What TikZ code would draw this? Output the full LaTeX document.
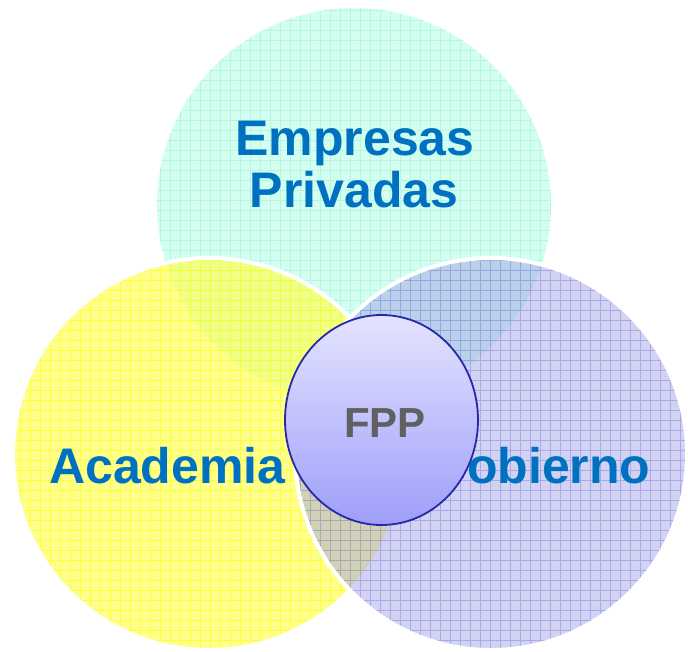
\documentclass[tikz,border=0pt]{standalone}
\usepackage{fontspec}
\setmainfont{Liberation Sans}
\definecolor{mint}{RGB}{210,255,240}
\definecolor{mintgrid}{RGB}{175,242,225}
\definecolor{yel}{RGB}{255,255,80}
\definecolor{yelgrid}{RGB}{255,255,0}
\definecolor{lav}{RGB}{165,165,232}
\definecolor{lavgrid}{RGB}{120,120,220}
\definecolor{labelblue}{RGB}{0,112,192}
\definecolor{fppgray}{RGB}{96,96,96}
\definecolor{fpptop}{RGB}{228,228,255}
\definecolor{fppbot}{RGB}{158,158,250}
\definecolor{fppedge}{RGB}{40,40,170}
\tikzset{
  biglabel/.style={inner sep=0pt, text=labelblue, font=\fontsize{50}{52}\selectfont\bfseries},
  gridlines/.style={line width=0.55pt},
  rim/.style={draw=white, line width=4pt}
}
\begin{document}
\begin{tikzpicture}[x=1pt,y=-1pt]
\useasboundingbox (0,0) rectangle (688,651);
% top circle
\begin{scope}
  \clip (354,205) circle (197);
  \fill[mint] (354,205) circle (197);
  \draw[mintgrid, gridlines, step=10pt, opacity=0.8] (150,0) grid (560,410);
\end{scope}
% left circle
\begin{scope}
  \clip (209,454) circle (196);
  \fill[yel, fill opacity=0.65] (209,454) circle (196);
  \draw[yelgrid, gridlines, step=10pt, opacity=0.6] (0,250) grid (410,660);
\end{scope}
\draw[rim] (209,454) circle (196);
% right circle
\begin{scope}
  \clip (491,454) circle (196);
  \fill[lav, fill opacity=0.5] (491,454) circle (196);
  \draw[lavgrid, gridlines, step=10pt, opacity=0.45] (290,250) grid (700,660);
\end{scope}
\draw[rim] (491,454) circle (196);
% labels
\node[biglabel, anchor=base] (emp) at (355,155) {Empresas};
\node[biglabel, anchor=base] (priv) at (354,207) {Privadas};
\node[biglabel, anchor=base west] (acad) at (49,483) {Academia};
\node[biglabel, anchor=base west] (gob) at (428,483) {Gobierno};
% center
\path[top color=fpptop, bottom color=fppbot, draw=fppedge, line width=1.8pt]
  (381.5,420) ellipse (96.5 and 105);
\node[inner sep=0pt, text=fppgray, font=\fontsize{42}{44}\selectfont\bfseries, anchor=base] (fpp) at (385,437) {FPP};
\end{tikzpicture}
\end{document}
